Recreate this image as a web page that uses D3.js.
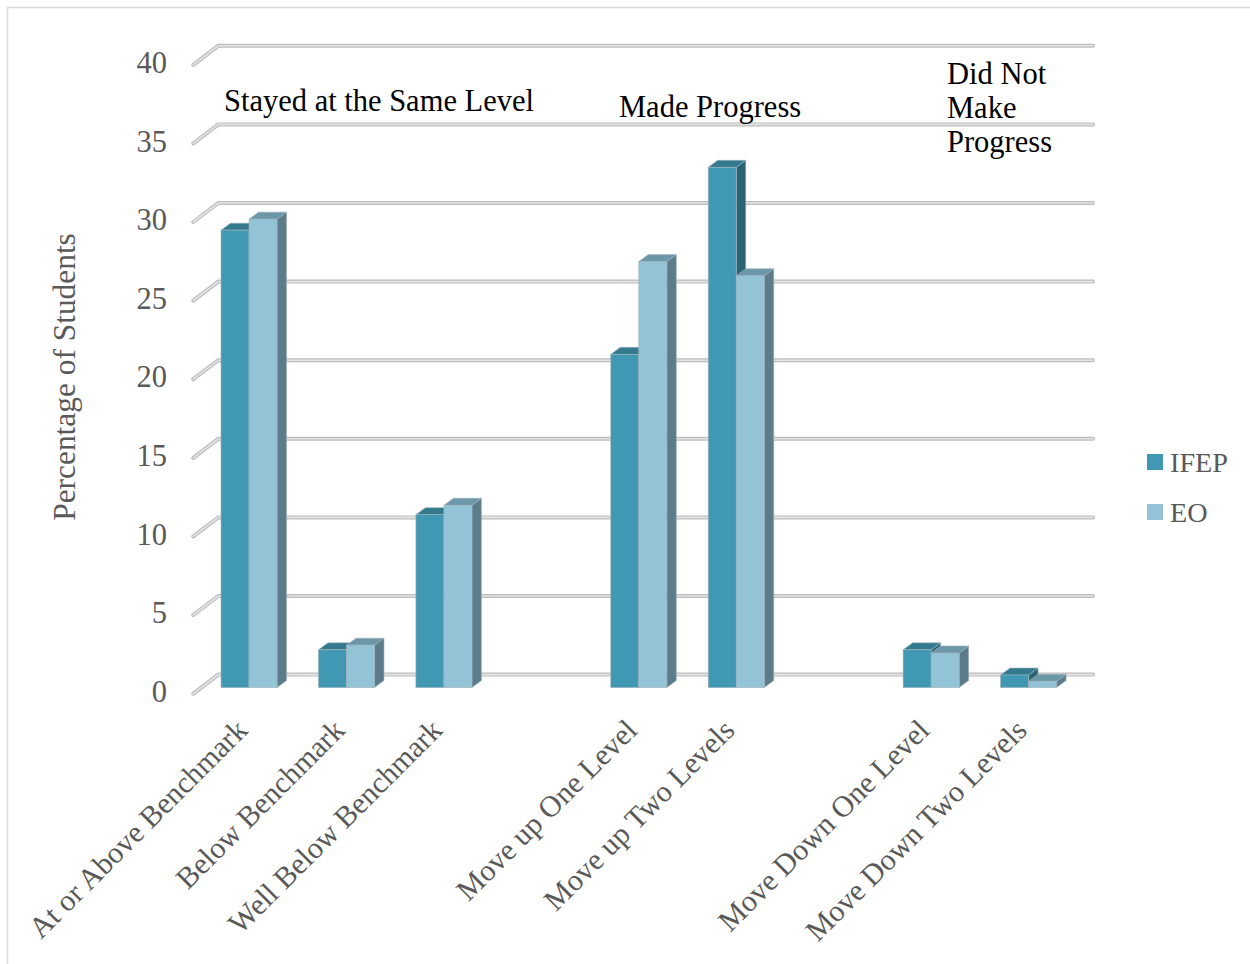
<!DOCTYPE html>
<html>
<head>
<meta charset="utf-8">
<script src="https://cdn.jsdelivr.net/npm/d3@7"></script>
<style>
    html, body { margin: 0; padding: 0; background: #fff; }
    svg { display: block; }
    text { font-family: "Liberation Serif", serif; }
    .axis text { fill: #595959; font-size: 30px; }
    .y-axis text { font-size: 30.5px; }
    .axis path, .axis line { display: none; }
</style>
</head>
<body>
<div id="chart"></div>
<script>
// blank slots separate the three groups
var categories = ["At or Above Benchmark", "Below Benchmark", "Well Below Benchmark", "",
    "Move up One Level", "Move up Two Levels", " ", "Move Down One Level", "Move Down Two Levels"];
var ifep = [29.1, 2.4, 11, null, 21.2, 33.1, null, 2.4, 0.8];
var eo = [29.8, 2.7, 11.6, null, 27.1, 26.2, null, 2.2, 0.4];
var yTicks = [0, 5, 10, 15, 20, 25, 30, 35, 40];
var seriesNames = ["IFEP", "EO"];
var notes = [
    { lines: ["Stayed at the Same Level"], x: 224, y: 111 },
    { lines: ["Made Progress"], x: 619, y: 117 },
    { lines: ["Did Not", "Make", "Progress"], x: 947, y: 84 }
];

var width = 1250, height = 964;
var colors = {
    IFEP: { front: "#4198b2", top: "#337a8e", side: "#2a6474" },
    EO: { front: "#93c3d6", top: "#6c97a9", side: "#5d7c89" }
};

var svg = d3.select("#chart").append("svg")
    .attr("width", width)
    .attr("height", height);

// outer frame, open on the right and bottom
svg.append("path")
    .attr("d", "M7.5,964V7.5H1250")
    .attr("fill", "none")
    .attr("stroke", "#d9d9d9")
    .attr("stroke-width", 1.5);

var x = d3.scaleBand().domain(categories).range([200.3, 1077.3]);

// y is the front plane of the bars
var y = d3.scaleLinear().domain([0, 40]).range([687.6, 58.8]);

var barWidth = x.bandwidth() * 0.2875;
var depth = { dx: 9.5, dy: 7 };
var wall = { backDy: -13, sideDx: -25, backDx: 18 };

// gridlines on the back wall with a short return down the side wall
var grid = svg.append("g").selectAll("g")
    .data(yTicks)
    .enter().append("g");

function gridPath(d) {
    var by = y(d) + wall.backDy;
    return "M" + (x.range()[0] + wall.backDx + wall.sideDx) + "," + (by + 19) +
        "L" + (x.range()[0] + wall.backDx) + "," + by + "H1093";
}

grid.append("path")
    .attr("d", gridPath)
    .attr("fill", "none")
    .attr("stroke", "#bdbdbd")
    .attr("stroke-width", 4)
    .attr("stroke-linecap", "round");

grid.append("path")
    .attr("d", gridPath)
    .attr("fill", "none")
    .attr("stroke", "#e4e4e4")
    .attr("stroke-width", 1.6)
    .attr("stroke-linecap", "round");

// axes
var yAxis = d3.axisLeft(y).tickValues(yTicks).tickSize(0).tickPadding(0);
svg.append("g")
    .attr("class", "axis y-axis")
    .attr("transform", "translate(167,4)")
    .call(yAxis);

var xAxis = d3.axisBottom(x).tickSize(0).tickPadding(0);
svg.append("g")
    .attr("class", "axis x-axis")
    .attr("transform", "translate(0,687)")
    .call(xAxis)
    .selectAll("text")
    .attr("text-anchor", "end")
    .attr("dy", null)
    .attr("y", null)
    .attr("transform", "translate(0,45)rotate(-45)");

svg.append("text")
    .attr("text-anchor", "middle")
    .attr("transform", "translate(75,377)rotate(-90)")
    .attr("fill", "#595959")
    .style("font-size", "31.4px")
    .text("Percentage of Students");

// bars, first series first so the second one overlaps its side face
seriesNames.forEach(function(name, s) {
    var values = s === 0 ? ifep : eo;
    var rows = categories.map(function(c, i) { return { cat: c, value: values[i] }; })
        .filter(function(d) { return d.value !== null; });

    function left(d) { return x(d.cat) + (x.bandwidth() - 2 * barWidth) / 2 + s * barWidth; }

    var bar = svg.append("g").attr("class", "series-" + name).selectAll("g")
        .data(rows)
        .enter().append("g")
        .attr("stroke", "#9fb2ba")
        .attr("stroke-width", 0.6);

    bar.append("polygon")
        .attr("fill", colors[name].side)
        .attr("points", function(d) {
            var r = left(d) + barWidth, t = y(d.value), b = y(0);
            return [[r, t], [r + depth.dx, t - depth.dy], [r + depth.dx, b - depth.dy], [r, b]].join(" ");
        });

    bar.append("polygon")
        .attr("fill", colors[name].top)
        .attr("points", function(d) {
            var l = left(d), t = y(d.value);
            return [[l, t], [l + depth.dx, t - depth.dy], [l + barWidth + depth.dx, t - depth.dy], [l + barWidth, t]].join(" ");
        });

    bar.append("rect")
        .attr("x", left)
        .attr("y", function(d) { return y(d.value); })
        .attr("width", barWidth)
        .attr("height", function(d) { return y(0) - y(d.value); })
        .attr("fill", colors[name].front);
});

// group notes
notes.forEach(function(n) {
    n.lines.forEach(function(line, i) {
        svg.append("text")
            .attr("x", n.x)
            .attr("y", n.y + i * 34)
            .attr("fill", "#000")
            .style("font-size", "30.5px")
            .text(line);
    });
});

// legend
var legend = svg.selectAll(".legend")
    .data(seriesNames)
    .enter().append("g")
    .attr("class", "legend")
    .attr("transform", function(d, i) { return "translate(1147," + (454 + i * 50) + ")"; });

legend.append("rect")
    .attr("width", 16)
    .attr("height", 16)
    .attr("fill", function(d) { return colors[d].front; });

legend.append("text")
    .attr("x", 23)
    .attr("y", 18)
    .attr("fill", "#595959")
    .style("font-size", "28.2px")
    .text(function(d) { return d; });
</script>
</body>
</html>
